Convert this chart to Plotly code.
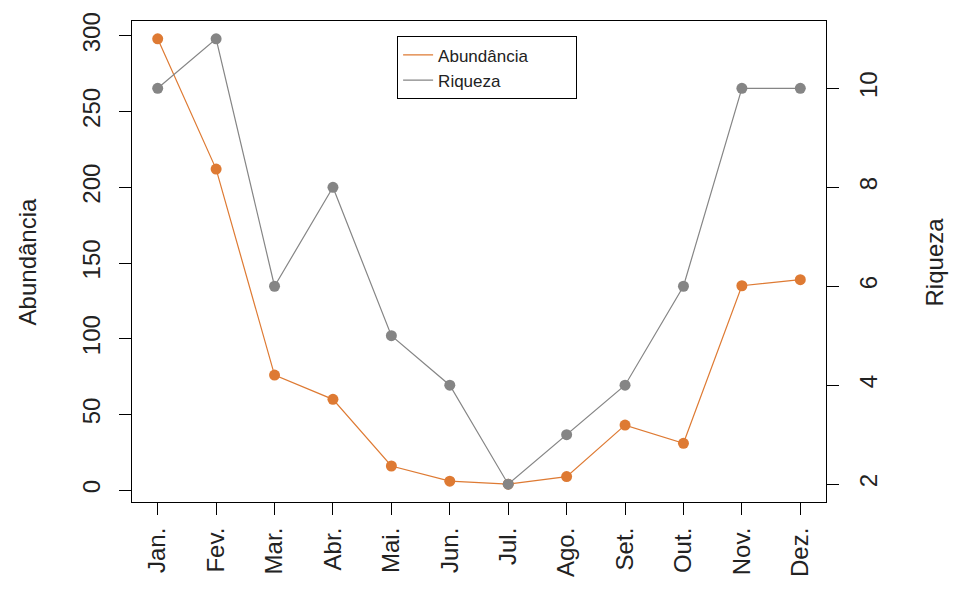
import plotly.graph_objects as go

# Monthly sampling data
meses = ["Jan.", "Fev.", "Mar.", "Abr.", "Mai.", "Jun.", "Jul.", "Ago.", "Set.", "Out.", "Nov.", "Dez."]
abundancia = [298, 212, 76, 60, 16, 6, 4, 9, 43, 31, 135, 139]
riqueza = [10, 11, 6, 8, 5, 4, 2, 3, 4, 6, 10, 10]
ticks_abund = [0, 50, 100, 150, 200, 250, 300]
ticks_riq = [2, 4, 6, 8, 10]

COR_ABUND = "#DE7A33"
COR_RIQ = "#858585"
FONTE = "Liberation Sans, Arial, sans-serif"
TXT = "#222222"
PAD = "\u00a0" * 9  # extra room on the right of the legend text

x = list(range(1, len(meses) + 1))


def faixa(valores, pad=0.04):
    """Axis range padded by 4% on each side, like R's default."""
    lo, hi = min(valores), max(valores)
    d = (hi - lo) * pad
    return [lo - d, hi + d]


fig = go.Figure()

fig.add_trace(go.Scatter(
    x=x, y=abundancia, mode="lines+markers", yaxis="y",
    line=dict(color=COR_ABUND, width=1.2),
    marker=dict(color=COR_ABUND, size=11),
    showlegend=False, name="Abundância",
))
fig.add_trace(go.Scatter(
    x=x, y=riqueza, mode="lines+markers", yaxis="y2",
    line=dict(color=COR_RIQ, width=1.2),
    marker=dict(color=COR_RIQ, size=11),
    showlegend=False, name="Riqueza",
))

# legend entries show the line only
fig.add_trace(go.Scatter(x=[None], y=[None], mode="lines", name="Abundância" + PAD,
                         line=dict(color=COR_ABUND, width=1.2)))
fig.add_trace(go.Scatter(x=[None], y=[None], mode="lines", name="Riqueza" + PAD,
                         line=dict(color=COR_RIQ, width=1.2)))

eixo_comum = dict(
    showgrid=False, zeroline=False, showline=True, linecolor="black", linewidth=1.2,
    ticks="outside", ticklen=12, tickwidth=1.2, tickcolor="black",
    tickfont=dict(family=FONTE, size=24, color=TXT), tickangle=-90,
)

fig.update_layout(
    width=953, height=590,
    margin=dict(l=132, r=127, t=16, b=88),
    paper_bgcolor="white", plot_bgcolor="white",
    xaxis=dict(
        range=faixa(x), tickvals=x, ticktext=meses, mirror=True,
        ticklabelstandoff=3, **eixo_comum,
    ),
    yaxis=dict(
        range=faixa(abundancia), tickvals=ticks_abund,
        ticklabelstandoff=9, **eixo_comum,
    ),
    yaxis2=dict(
        range=faixa(riqueza), tickvals=ticks_riq, overlaying="y", side="right",
        ticklabelstandoff=9, **eixo_comum,
    ),
    legend=dict(
        x=0.382, y=0.968, xanchor="left", yanchor="top",
        bordercolor="black", borderwidth=1, bgcolor="white",
        font=dict(family=FONTE, size=17, color=TXT),
        tracegroupgap=0, itemwidth=30,
    ),
    annotations=[
        dict(text="Abundância", xref="paper", yref="paper", x=-0.150, y=0.5,
             xanchor="center", yanchor="middle", textangle=-90, showarrow=False,
             font=dict(family=FONTE, size=24, color=TXT)),
        dict(text="Riqueza", xref="paper", yref="paper", x=1.157, y=0.5,
             xanchor="center", yanchor="middle", textangle=-90, showarrow=False,
             font=dict(family=FONTE, size=24, color=TXT)),
    ],
)

fig.write_html("out.html")
